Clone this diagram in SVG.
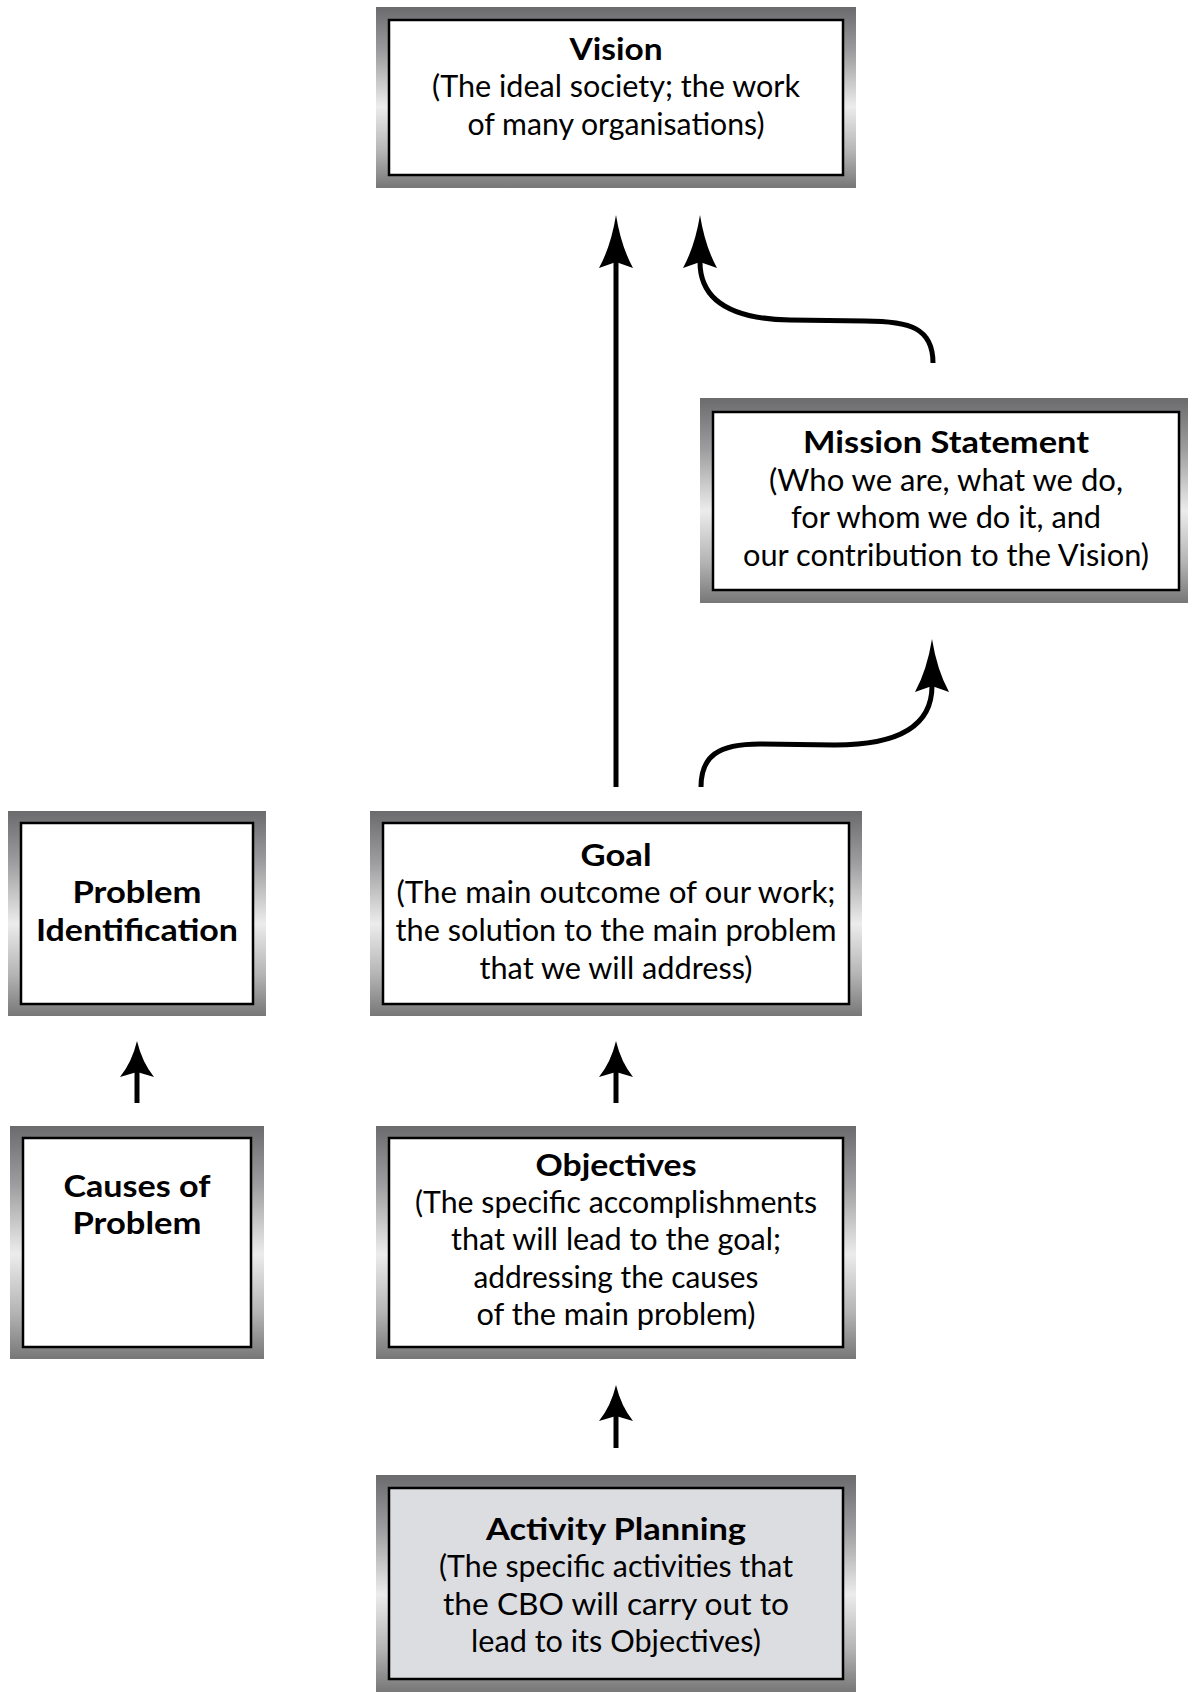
<svg xmlns="http://www.w3.org/2000/svg" width="1192" height="1692" viewBox="0 0 1192 1692">
  <style>
    .frame { fill: url(#metal); }
    .panel { fill: #ffffff; stroke: #000000; stroke-width: 2.5; }
    .panel.shaded { fill: #dcdde0; }
    text { font-family: Lato, "Open Sans", "Liberation Sans", sans-serif; font-size: 30px; fill: #000000; text-anchor: middle; }
    .title { font-weight: 700; }
    .link { fill: none; stroke: #000000; stroke-width: 5; }
  </style>
  <defs>
    <!-- brushed-metal frame: dark at the top, bright through the middle, dark again below -->
    <linearGradient id="metal" x1="0" y1="0" x2="0" y2="1">
      <stop offset="0" stop-color="#6b6b6e"/>
      <stop offset="0.25" stop-color="#9d9d9f"/>
      <stop offset="0.55" stop-color="#ececec"/>
      <stop offset="0.8" stop-color="#b4b4b5"/>
      <stop offset="1" stop-color="#777778"/>
    </linearGradient>
    <marker id="head-lg" markerUnits="userSpaceOnUse" viewBox="0 -18 54 36" markerWidth="54" markerHeight="36" refX="6" refY="0" orient="auto">
      <path d="M0,-17 Q22,-5 53,0 Q22,5 0,17 L6,0 Z" fill="#000000"/>
    </marker>
    <marker id="head-sm" markerUnits="userSpaceOnUse" viewBox="0 -18 37 36" markerWidth="37" markerHeight="36" refX="5" refY="0" orient="auto">
      <path d="M0,-17 Q15,-5 36,0 Q15,5 0,17 L5,0 Z" fill="#000000"/>
    </marker>
  </defs>

  <g id="connectors">
    <line class="link" x1="616" y1="787" x2="616" y2="262" marker-end="url(#head-lg)"/>
    <path class="link" d="M933,363 C933,328 910,321 865,321 L790,320 C730,319 700,300 700,262" marker-end="url(#head-lg)"/>
    <path class="link" d="M701,787 C701,756 718,744 760,744 L835,745 C902,745 932,724 932,686" marker-end="url(#head-lg)"/>
    <line class="link" x1="616" y1="1103" x2="616" y2="1072" marker-end="url(#head-sm)"/>
    <line class="link" x1="137" y1="1103" x2="137" y2="1072" marker-end="url(#head-sm)"/>
    <line class="link" x1="616" y1="1448" x2="616" y2="1416" marker-end="url(#head-sm)"/>
  </g>

  <g id="vision">
    <rect class="frame" x="376" y="7" width="480" height="181"/>
    <rect class="panel" x="389" y="20" width="454" height="155"/>
    <text x="616" y="60" class="title" textLength="93" lengthAdjust="spacingAndGlyphs">Vision</text>
    <text x="616" y="97" textLength="368" lengthAdjust="spacingAndGlyphs">(The ideal society; the work</text>
    <text x="616" y="135" textLength="297" lengthAdjust="spacingAndGlyphs">of many organisations)</text>
  </g>

  <g id="mission">
    <rect class="frame" x="700" y="398" width="488" height="205"/>
    <rect class="panel" x="713" y="412" width="466" height="178"/>
    <text x="946" y="453" class="title" textLength="286" lengthAdjust="spacingAndGlyphs">Mission Statement</text>
    <text x="946" y="491" textLength="354" lengthAdjust="spacingAndGlyphs">(Who we are, what we do,</text>
    <text x="946" y="528" textLength="310" lengthAdjust="spacingAndGlyphs">for whom we do it, and</text>
    <text x="946" y="566" textLength="406" lengthAdjust="spacingAndGlyphs">our contribution to the Vision)</text>
  </g>

  <g id="problem-identification">
    <rect class="frame" x="8" y="811" width="258" height="205"/>
    <rect class="panel" x="21" y="823" width="232" height="181"/>
    <text x="137" y="903" class="title" textLength="129" lengthAdjust="spacingAndGlyphs">Problem</text>
    <text x="137" y="941" class="title" textLength="202" lengthAdjust="spacingAndGlyphs">Identification</text>
  </g>

  <g id="goal">
    <rect class="frame" x="370" y="811" width="492" height="205"/>
    <rect class="panel" x="383" y="823" width="466" height="181"/>
    <text x="616" y="866" class="title" textLength="71" lengthAdjust="spacingAndGlyphs">Goal</text>
    <text x="616" y="903" textLength="439" lengthAdjust="spacingAndGlyphs">(The main outcome of our work;</text>
    <text x="616" y="941" textLength="441" lengthAdjust="spacingAndGlyphs">the solution to the main problem</text>
    <text x="616" y="979" textLength="273" lengthAdjust="spacingAndGlyphs">that we will address)</text>
  </g>

  <g id="causes">
    <rect class="frame" x="10" y="1126" width="254" height="233"/>
    <rect class="panel" x="23" y="1138" width="228" height="209"/>
    <text x="137" y="1197" class="title" textLength="147" lengthAdjust="spacingAndGlyphs">Causes of</text>
    <text x="137" y="1234" class="title" textLength="129" lengthAdjust="spacingAndGlyphs">Problem</text>
  </g>

  <g id="objectives">
    <rect class="frame" x="376" y="1126" width="480" height="233"/>
    <rect class="panel" x="389" y="1138" width="454" height="209"/>
    <text x="616" y="1176" class="title" textLength="161" lengthAdjust="spacingAndGlyphs">Objectives</text>
    <text x="616" y="1213" textLength="402" lengthAdjust="spacingAndGlyphs">(The specific accomplishments</text>
    <text x="616" y="1250" textLength="330" lengthAdjust="spacingAndGlyphs">that will lead to the goal;</text>
    <text x="616" y="1288" textLength="285" lengthAdjust="spacingAndGlyphs">addressing the causes</text>
    <text x="616" y="1325" textLength="279" lengthAdjust="spacingAndGlyphs">of the main problem)</text>
  </g>

  <g id="activity-planning">
    <rect class="frame" x="376" y="1475" width="480" height="217"/>
    <rect class="panel shaded" x="389" y="1488" width="454" height="191"/>
    <text x="616" y="1540" class="title" textLength="260" lengthAdjust="spacingAndGlyphs">Activity Planning</text>
    <text x="616" y="1577" textLength="354" lengthAdjust="spacingAndGlyphs">(The specific activities that</text>
    <text x="616" y="1615" textLength="346" lengthAdjust="spacingAndGlyphs">the CBO will carry out to</text>
    <text x="616" y="1652" textLength="290" lengthAdjust="spacingAndGlyphs">lead to its Objectives)</text>
  </g>
</svg>
